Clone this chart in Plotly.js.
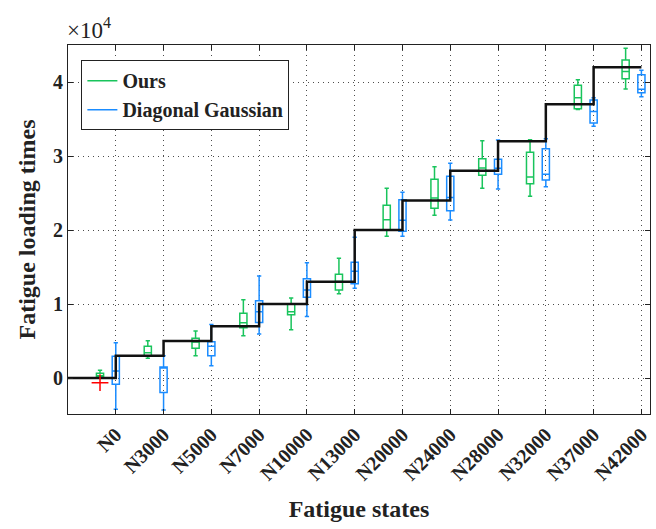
<!DOCTYPE html>
<html>
<head>
<meta charset="utf-8">
<script src="https://cdn.plot.ly/plotly-3.0.1.min.js"></script>
<style>html,body{margin:0;padding:0;background:#fff;}#chart{width:656px;height:529px;}</style>
</head>
<body>
<div id="chart"></div>
<script>
// Fatigue states (x categories)
const categories = ['N0','N3000','N5000','N7000','N10000','N13000','N20000','N24000','N28000','N32000','N37000','N42000'];
// True fatigue loading times (step line)
const trueTimes = [0,3000,5000,7000,10000,13000,20000,24000,28000,32000,37000,42000];

// "Ours" box statistics
const oursLower  = [100, 2660, 3020, 5720, 6530, 11400, 19150, 21980, 25630, 24550, 36300, 39050];
const oursQ1     = [140, 3020, 4010, 6800, 8560, 11890, 20000, 22930, 27390, 26260, 36400, 40450];
const oursMedian = [300, 3420, 4860, 7480, 8960, 13060, 21400, 24320, 28380, 27160, 37880, 41420];
const oursQ3     = [640, 4280, 5360, 8740, 10050, 14010, 23340, 26850, 29640, 30500, 39550, 42970];
const oursUpper  = [1040, 5040, 6350, 10580, 10810, 16170, 25630, 28560, 32070, 32210, 40310, 44550];

// "Diagonal Gaussian" box statistics
const diagLower  = [-4230, -4320, 1660, 5950, 8330, 12120, 19150, 21350, 25540, 25860, 34010, 38010];
const diagQ1     = [-850, -1940, 3020, 7520, 10900, 12750, 19820, 22610, 27520, 26760, 34460, 38560];
const diagMedian = [950, 1350, 4280, 8960, 11890, 14420, 21310, 24410, 28340, 27520, 36030, 39010];
const diagQ3     = [2930, 1490, 4910, 10450, 13420, 15630, 24100, 27250, 29550, 30990, 37570, 40990];
const diagUpper  = [4770, 3000, 7250, 13780, 15580, 19010, 25090, 29010, 32160, 32340, 37880, 41580];

// Outlier of "Ours"
const outlierCategory = ['N0'];
const outlierValue = [-630];

const GREEN = '#19c45c';
const BLUE = '#1a8cff';
const FONT = 'Liberation Serif, Times New Roman, serif';
const oursOffset = -0.33;

const catPos = categories.map((c, i) => i + 1);
const posOf = c => categories.indexOf(c) + 1;

const boxCommon = {
  type: 'box', boxpoints: false, width: 0.15, whiskerwidth: 0.6,
  fillcolor: 'rgba(0,0,0,0)', showlegend: false, hoverinfo: 'skip'
};

const traces = [
  Object.assign({}, boxCommon, {
    name: 'Ours', x: catPos.map(p => p + oursOffset),
    lowerfence: oursLower, q1: oursQ1, median: oursMedian, q3: oursQ3, upperfence: oursUpper,
    line: {color: GREEN, width: 1.5}
  }),
  Object.assign({}, boxCommon, {
    name: 'Diagonal Gaussian', x: catPos,
    lowerfence: diagLower, q1: diagQ1, median: diagMedian, q3: diagQ3, upperfence: diagUpper,
    line: {color: BLUE, width: 1.5}
  }),
  {
    type: 'scatter', mode: 'lines', showlegend: false, hoverinfo: 'skip',
    x: [0].concat(catPos),
    y: trueTimes.concat([trueTimes[trueTimes.length - 1]]),
    line: {color: '#111', width: 2.5, shape: 'hv'}
  },
  {
    type: 'scatter', mode: 'markers', showlegend: false, hoverinfo: 'skip',
    x: outlierCategory.map(c => posOf(c) + oursOffset), y: outlierValue,
    marker: {symbol: 'cross-thin-open', size: 12, color: 'red', line: {color: 'red', width: 1.5}}
  },
  // legend entries
  {type: 'scatter', mode: 'lines', name: 'Ours', x: [null], y: [null], line: {color: GREEN, width: 1.5}},
  {type: 'scatter', mode: 'lines', name: 'Diagonal Gaussian', x: [null], y: [null], line: {color: BLUE, width: 1.5}}
];

const yTicks = [0, 10000, 20000, 30000, 40000];

const layout = {
  width: 656, height: 529,
  margin: {l: 68, r: 6, t: 45, b: 115},
  paper_bgcolor: '#fff', plot_bgcolor: '#fff',
  boxmode: 'overlay',
  font: {family: FONT, color: '#222'},
  xaxis: {
    range: [0, 12.18],
    tickvals: catPos, ticktext: categories, tickangle: -45,
    tickfont: {family: FONT, size: 20, weight: 'bold', color: '#222'},
    ticks: 'inside', ticklen: 5, tickcolor: '#222',
    showline: true, linecolor: '#222', linewidth: 1, mirror: 'ticks',
    showgrid: true, gridcolor: 'rgba(0,0,0,0.7)', griddash: '1px,4px', gridwidth: 1,
    zeroline: false,
    title: {text: 'Fatigue states', font: {family: FONT, size: 24, weight: 'bold', color: '#222'}, standoff: 16}
  },
  yaxis: {
    range: [-4860, 45000],
    tickvals: yTicks, ticktext: yTicks.map(v => String(v / 10000)),
    tickfont: {family: FONT, size: 20, weight: 'bold', color: '#222'},
    ticks: 'inside', ticklen: 5, tickcolor: '#222',
    showline: true, linecolor: '#222', linewidth: 1, mirror: 'ticks',
    showgrid: true, gridcolor: 'rgba(0,0,0,0.7)', griddash: '1px,4px', gridwidth: 1,
    zeroline: false,
    title: {text: 'Fatigue loading times', font: {family: FONT, size: 24, weight: 'bold', color: '#222'}, standoff: 10}
  },
  legend: {
    x: 0.023, y: 0.959, xanchor: 'left', yanchor: 'top',
    bgcolor: '#fff', bordercolor: '#222', borderwidth: 1,
    font: {family: FONT, size: 20, weight: 'bold', color: '#222'}
  },
  annotations: [{
    xref: 'paper', yref: 'paper', x: -0.005, y: 1.045, xanchor: 'left', yanchor: 'middle',
    text: '×10<sup>4</sup>', showarrow: false,
    font: {family: FONT, size: 23, color: '#222'}
  }]
};

Plotly.newPlot('chart', traces, layout, {displayModeBar: false, staticPlot: true});
</script>
</body>
</html>
